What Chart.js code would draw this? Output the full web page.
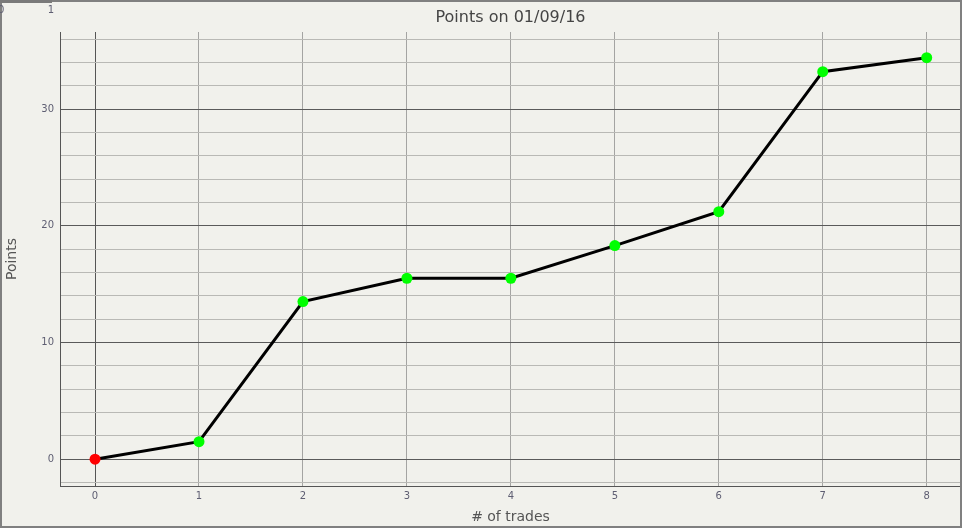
<!DOCTYPE html>
<html>
<head>
<meta charset="utf-8">
<script src="https://cdn.jsdelivr.net/npm/chart.js@4/dist/chart.umd.min.js"></script>
<style>
  html, body { margin: 0; padding: 0; background: #f1f1ec; }
  canvas { display: block; }
</style>
</head>
<body>
<canvas id="c" width="962" height="528"></canvas>
<script>
// trades vs points
const trades = [0, 1, 2, 3, 4, 5, 6, 7, 8];
const points = [0, 1.5, 13.5, 15.5, 15.5, 18.3, 21.2, 33.2, 34.4];
const pointColors = ['#ff0000', '#00ff00', '#00ff00', '#00ff00', '#00ff00', '#00ff00', '#00ff00', '#00ff00', '#00ff00'];
const xTicks = [0, 1, 2, 3, 4, 5, 6, 7, 8];
const yTicks = [-2, 0, 2, 4, 6, 8, 10, 12, 14, 16, 18, 20, 22, 24, 26, 28, 30, 32, 34, 36];
const yLabelled = [0, 10, 20, 30];

const FONT = 'DejaVu Sans, Verdana, sans-serif';
const TICK_COL = '#5e5e72';

const ctx = document.getElementById('c').getContext('2d');
new Chart(ctx, {
    type: 'line',
    data: {
        datasets: [
            {
                label: 'Points',
                data: trades.map((t, i) => ({ x: t, y: points[i] })),
                borderColor: '#000000',
                borderWidth: 3,
                pointRadius: 5.5,
                pointBorderWidth: 0,
                pointBackgroundColor: pointColors,
                pointBorderColor: pointColors,
                tension: 0,
            },
        ],
    },
    options: {
        animation: false,
        responsive: false,
        devicePixelRatio: 1,
        layout: { autoPadding: false, padding: { top: 0, bottom: 2, left: 0, right: 1 } },
        plugins: {
            legend: { display: false },
            tooltip: { enabled: false },
            title: {
                display: true,
                fullSize: false,
                text: 'Points on 01/09/16',
                color: '#444444',
                font: { size: 16, weight: 'normal', family: FONT },
                padding: { top: 8, bottom: 4.8 },
            },
        },
        scales: {
            x: {
                type: 'linear',
                min: -0.337,
                max: 8.33,
                afterBuildTicks: (s) => { s.ticks = xTicks.map((v) => ({ value: v })); },
                afterFit: (s) => { s.height = 40; s.paddingLeft = 0; s.paddingRight = 0; },
                grid: {
                    drawTicks: false,
                    color: (c) => (c.tick && c.tick.value === 0 ? '#555555' : '#a4a4a2'),
                    lineWidth: 1,
                },
                border: { color: '#555555', width: 1 },
                ticks: { color: TICK_COL, font: { size: 10, family: FONT }, padding: 4, maxRotation: 0 },
                title: {
                    display: true,
                    text: '# of trades',
                    color: '#555555',
                    font: { size: 14, family: FONT },
                    padding: { top: 2, bottom: 0 },
                },
            },
            y: {
                type: 'linear',
                min: -2.3,
                max: 36.6,
                afterBuildTicks: (s) => { s.ticks = yTicks.map((v) => ({ value: v })); },
                afterFit: (s) => { s.width = 60; s.paddingTop = 0; s.paddingBottom = 0; },
                grid: {
                    drawTicks: false,
                    color: (c) => (c.tick && yLabelled.includes(c.tick.value) ? '#5a5a5a' : '#b9b9b5'),
                    lineWidth: 1,
                },
                border: { color: '#555555', width: 1 },
                ticks: {
                    color: TICK_COL,
                    font: { size: 10, family: FONT },
                    padding: 6,
                    callback: (v) => (yLabelled.includes(v) ? String(v) : ''),
                },
                title: {
                    display: true,
                    text: 'Points',
                    color: '#555555',
                    font: { size: 14, family: FONT },
                    padding: { top: 4, bottom: 0 },
                },
            },
        },
    },
    plugins: [
        {
            id: 'frame',
            beforeDraw(c) {
                const g = c.ctx;
                g.save();
                g.fillStyle = '#f1f1ec';
                g.fillRect(0, 0, c.width, c.height);
                g.restore();
            },
            afterDraw(c) {
                const g = c.ctx;
                g.save();
                g.strokeStyle = '#808080';
                g.lineWidth = 2;
                g.strokeRect(1, 1, c.width - 2, c.height - 2);
                // the little stray axis stub in the top-left corner
                g.fillStyle = '#7a7a7a';
                g.fillRect(0, 0, 52, 3);
                g.fillStyle = TICK_COL;
                g.font = '10px ' + FONT;
                g.textBaseline = 'middle';
                g.textAlign = 'left';
                g.fillText('0', -2, 10);
                g.textAlign = 'center';
                g.fillText('1', 51, 10);
                g.restore();
            },
        },
    ],
});
</script>
</body>
</html>
